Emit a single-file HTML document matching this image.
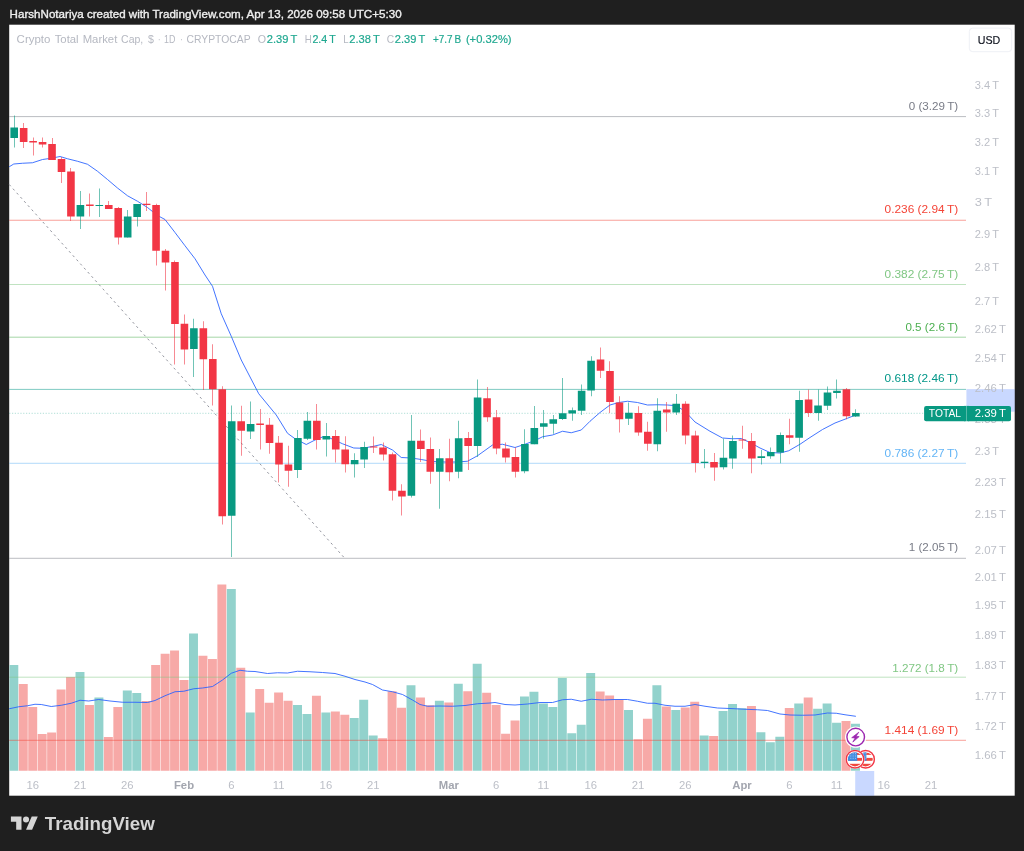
<!DOCTYPE html>
<html lang="en"><head><meta charset="utf-8"><title>Crypto Total Market Cap chart</title>
<style>
html,body{margin:0;padding:0;background:#1f1f1f;}
body{width:1024px;height:851px;overflow:hidden;position:relative;font-family:"Liberation Sans",Arial,sans-serif;}
svg{position:absolute;left:0;top:0;display:block;}
text{font-family:"Liberation Sans",Arial,sans-serif;}
.ax{fill:#bcbfc7;font-size:11.3px;}
.tm{fill:#bcbfc7;font-size:11.3px;text-anchor:middle;}
.tmb{fill:#a3a6af;font-size:11.3px;text-anchor:middle;font-weight:bold;}
.fib{font-size:11.3px;text-anchor:end;}
.lg{font-size:11px;}
</style></head><body>
<svg width="1024" height="851" viewBox="0 0 1024 851">
<rect x="0" y="0" width="1024" height="851" fill="#1f1f1f"/>
<rect x="9.2" y="24.7" width="1005.5" height="771" fill="#ffffff"/>
<defs><clipPath id="pc"><rect x="9.2" y="24.5" width="957" height="746.3"/></clipPath><clipPath id="fc"><circle cx="0" cy="0" r="7.1"/></clipPath></defs>
<text x="9.6" y="18.0" fill="#ebebeb" font-size="11.4px" textLength="392" lengthAdjust="spacingAndGlyphs" stroke="#f2f2f2" stroke-width="0.35">HarshNotariya created with TradingView.com, Apr 13, 2026 09:58 UTC+5:30</text>
<g clip-path="url(#pc)">
<rect x="9.33" y="665.0" width="8.95" height="106.00" fill="#92d2cc"/>
<rect x="18.78" y="684.0" width="8.95" height="87.00" fill="#f7a9a7"/>
<rect x="28.24" y="707.0" width="8.95" height="64.00" fill="#f7a9a7"/>
<rect x="37.70" y="734.0" width="8.95" height="37.00" fill="#f7a9a7"/>
<rect x="47.15" y="732.5" width="8.95" height="38.50" fill="#f7a9a7"/>
<rect x="56.61" y="689.5" width="8.95" height="81.50" fill="#f7a9a7"/>
<rect x="66.07" y="677.0" width="8.95" height="94.00" fill="#f7a9a7"/>
<rect x="75.52" y="672.0" width="8.95" height="99.00" fill="#92d2cc"/>
<rect x="84.98" y="705.0" width="8.95" height="66.00" fill="#f7a9a7"/>
<rect x="94.44" y="697.5" width="8.95" height="73.50" fill="#92d2cc"/>
<rect x="103.90" y="737.0" width="8.95" height="34.00" fill="#f7a9a7"/>
<rect x="113.35" y="707.0" width="8.95" height="64.00" fill="#f7a9a7"/>
<rect x="122.81" y="690.5" width="8.95" height="80.50" fill="#92d2cc"/>
<rect x="132.27" y="693.0" width="8.95" height="78.00" fill="#92d2cc"/>
<rect x="141.72" y="701.0" width="8.95" height="70.00" fill="#f7a9a7"/>
<rect x="151.18" y="665.0" width="8.95" height="106.00" fill="#f7a9a7"/>
<rect x="160.64" y="653.75" width="8.95" height="117.25" fill="#f7a9a7"/>
<rect x="170.09" y="650.5" width="8.95" height="120.50" fill="#f7a9a7"/>
<rect x="179.55" y="680.0" width="8.95" height="91.00" fill="#f7a9a7"/>
<rect x="189.01" y="633.5" width="8.95" height="137.50" fill="#92d2cc"/>
<rect x="198.47" y="655.75" width="8.95" height="115.25" fill="#f7a9a7"/>
<rect x="207.92" y="659.0" width="8.95" height="112.00" fill="#f7a9a7"/>
<rect x="217.38" y="584.5" width="8.95" height="186.50" fill="#f7a9a7"/>
<rect x="226.84" y="589.0" width="8.95" height="182.00" fill="#92d2cc"/>
<rect x="236.29" y="667.75" width="8.95" height="103.25" fill="#f7a9a7"/>
<rect x="245.75" y="712.5" width="8.95" height="58.50" fill="#92d2cc"/>
<rect x="255.21" y="689.0" width="8.95" height="82.00" fill="#f7a9a7"/>
<rect x="264.66" y="702.75" width="8.95" height="68.25" fill="#f7a9a7"/>
<rect x="274.12" y="692.5" width="8.95" height="78.50" fill="#f7a9a7"/>
<rect x="283.58" y="700.75" width="8.95" height="70.25" fill="#f7a9a7"/>
<rect x="293.04" y="705.0" width="8.95" height="66.00" fill="#92d2cc"/>
<rect x="302.49" y="714.0" width="8.95" height="57.00" fill="#92d2cc"/>
<rect x="311.95" y="695.75" width="8.95" height="75.25" fill="#f7a9a7"/>
<rect x="321.41" y="712.5" width="8.95" height="58.50" fill="#92d2cc"/>
<rect x="330.86" y="711.5" width="8.95" height="59.50" fill="#f7a9a7"/>
<rect x="340.32" y="714.75" width="8.95" height="56.25" fill="#f7a9a7"/>
<rect x="349.78" y="718.0" width="8.95" height="53.00" fill="#92d2cc"/>
<rect x="359.23" y="699.75" width="8.95" height="71.25" fill="#92d2cc"/>
<rect x="368.69" y="735.5" width="8.95" height="35.50" fill="#92d2cc"/>
<rect x="378.15" y="738.25" width="8.95" height="32.75" fill="#f7a9a7"/>
<rect x="387.61" y="691.25" width="8.95" height="79.75" fill="#f7a9a7"/>
<rect x="397.06" y="707.75" width="8.95" height="63.25" fill="#f7a9a7"/>
<rect x="406.52" y="685.25" width="8.95" height="85.75" fill="#92d2cc"/>
<rect x="415.98" y="697.5" width="8.95" height="73.50" fill="#f7a9a7"/>
<rect x="425.43" y="705.25" width="8.95" height="65.75" fill="#f7a9a7"/>
<rect x="434.89" y="700.75" width="8.95" height="70.25" fill="#92d2cc"/>
<rect x="444.35" y="702.5" width="8.95" height="68.50" fill="#f7a9a7"/>
<rect x="453.80" y="683.75" width="8.95" height="87.25" fill="#92d2cc"/>
<rect x="463.26" y="691.25" width="8.95" height="79.75" fill="#f7a9a7"/>
<rect x="472.72" y="663.75" width="8.95" height="107.25" fill="#92d2cc"/>
<rect x="482.18" y="692.75" width="8.95" height="78.25" fill="#f7a9a7"/>
<rect x="491.63" y="705.0" width="8.95" height="66.00" fill="#f7a9a7"/>
<rect x="501.09" y="733.75" width="8.95" height="37.25" fill="#f7a9a7"/>
<rect x="510.55" y="720.5" width="8.95" height="50.50" fill="#f7a9a7"/>
<rect x="520.00" y="696.5" width="8.95" height="74.50" fill="#92d2cc"/>
<rect x="529.46" y="691.75" width="8.95" height="79.25" fill="#92d2cc"/>
<rect x="538.92" y="703.5" width="8.95" height="67.50" fill="#92d2cc"/>
<rect x="548.37" y="707.0" width="8.95" height="64.00" fill="#92d2cc"/>
<rect x="557.83" y="678.0" width="8.95" height="93.00" fill="#92d2cc"/>
<rect x="567.29" y="733.25" width="8.95" height="37.75" fill="#92d2cc"/>
<rect x="576.75" y="724.75" width="8.95" height="46.25" fill="#92d2cc"/>
<rect x="586.20" y="673.0" width="8.95" height="98.00" fill="#92d2cc"/>
<rect x="595.66" y="691.5" width="8.95" height="79.50" fill="#f7a9a7"/>
<rect x="605.12" y="695.5" width="8.95" height="75.50" fill="#f7a9a7"/>
<rect x="614.57" y="699.5" width="8.95" height="71.50" fill="#f7a9a7"/>
<rect x="624.03" y="710.0" width="8.95" height="61.00" fill="#92d2cc"/>
<rect x="633.49" y="739.25" width="8.95" height="31.75" fill="#f7a9a7"/>
<rect x="642.94" y="718.75" width="8.95" height="52.25" fill="#f7a9a7"/>
<rect x="652.40" y="685.25" width="8.95" height="85.75" fill="#92d2cc"/>
<rect x="661.86" y="706.5" width="8.95" height="64.50" fill="#f7a9a7"/>
<rect x="671.31" y="710.0" width="8.95" height="61.00" fill="#92d2cc"/>
<rect x="680.77" y="707.5" width="8.95" height="63.50" fill="#f7a9a7"/>
<rect x="690.23" y="701.75" width="8.95" height="69.25" fill="#f7a9a7"/>
<rect x="699.69" y="735.5" width="8.95" height="35.50" fill="#92d2cc"/>
<rect x="709.14" y="736.0" width="8.95" height="35.00" fill="#f7a9a7"/>
<rect x="718.60" y="711.0" width="8.95" height="60.00" fill="#92d2cc"/>
<rect x="728.06" y="704.0" width="8.95" height="67.00" fill="#92d2cc"/>
<rect x="737.51" y="708.25" width="8.95" height="62.75" fill="#92d2cc"/>
<rect x="746.97" y="706.0" width="8.95" height="65.00" fill="#f7a9a7"/>
<rect x="756.43" y="732.25" width="8.95" height="38.75" fill="#92d2cc"/>
<rect x="765.88" y="742.25" width="8.95" height="28.75" fill="#92d2cc"/>
<rect x="775.34" y="736.75" width="8.95" height="34.25" fill="#92d2cc"/>
<rect x="784.80" y="708.0" width="8.95" height="63.00" fill="#f7a9a7"/>
<rect x="794.26" y="703.5" width="8.95" height="67.50" fill="#92d2cc"/>
<rect x="803.71" y="697.5" width="8.95" height="73.50" fill="#f7a9a7"/>
<rect x="813.17" y="708.75" width="8.95" height="62.25" fill="#92d2cc"/>
<rect x="822.63" y="703.5" width="8.95" height="67.50" fill="#92d2cc"/>
<rect x="832.08" y="722.75" width="8.95" height="48.25" fill="#92d2cc"/>
<rect x="841.54" y="721.0" width="8.95" height="50.00" fill="#f7a9a7"/>
<rect x="851.00" y="723.75" width="8.95" height="47.25" fill="#92d2cc"/>
</g>
<line x1="9.2" x2="966" y1="116.6" y2="116.6" stroke="#787b86" stroke-width="1" stroke-opacity="0.5"/>
<line x1="9.2" x2="966" y1="220.25" y2="220.25" stroke="#f44336" stroke-width="1" stroke-opacity="0.5"/>
<line x1="9.2" x2="966" y1="284.5" y2="284.5" stroke="#81c784" stroke-width="1" stroke-opacity="0.5"/>
<line x1="9.2" x2="966" y1="337.2" y2="337.2" stroke="#4caf50" stroke-width="1" stroke-opacity="0.5"/>
<line x1="9.2" x2="966" y1="389.4" y2="389.4" stroke="#009688" stroke-width="1" stroke-opacity="0.5"/>
<line x1="9.2" x2="966" y1="463.3" y2="463.3" stroke="#64b5f6" stroke-width="1" stroke-opacity="0.5"/>
<line x1="9.2" x2="966" y1="558.3" y2="558.3" stroke="#787b86" stroke-width="1" stroke-opacity="0.5"/>
<line x1="9.2" x2="966" y1="677.2" y2="677.2" stroke="#81c784" stroke-width="1" stroke-opacity="0.5"/>
<line x1="9.2" x2="966" y1="740.3" y2="740.3" stroke="#f44336" stroke-width="1" stroke-opacity="0.5"/>
<line x1="9.2" y1="184.5" x2="344.5" y2="558" stroke="#787b86" stroke-width="1" stroke-dasharray="2.3 3.3" stroke-opacity="0.8"/>
<line x1="9.2" x2="966" y1="413.3" y2="413.3" stroke="#089981" stroke-width="0.8" stroke-dasharray="1.2 1.6" stroke-opacity="0.4"/>
<g clip-path="url(#pc)">
<polyline points="9.25,166.75 13.75,164 22.5,163.25 32.5,162.75 42.5,159.5 51.25,158.25 60,156.5 67.5,158.75 77.5,161.25 87.5,164.25 97.5,171.25 107.5,179.5 117.5,188 127.5,195.75 137.5,201.25 147.5,207.5 157.5,215.5 165,219.5 175,232.5 185,245.75 195,258.75 205,275 212.5,286.25 221.25,313.75 231.25,336.25 241.25,360 258.75,393.75 276.25,415 287.5,433.25 295,438.75 306.25,444.5 315,440 322.5,437 330,438 342.5,443.75 353.75,448 362.5,448.25 373.75,446.25 381.25,444.5 392.5,450 401.25,457.5 411.25,458 421.25,459.5 432.5,461.5 445,462 456.25,462 467.5,461.25 477.5,455.75 492.5,445 502.5,444.25 515,447.5 525,444.25 535,440.5 542.5,436.75 552.5,435 562.5,431.25 571.25,432.75 581.25,430 590,421.25 600,412.5 610,405 618.75,402.5 627.5,401.25 637.5,402.5 647.5,405 657.5,404.75 667.5,405 676.25,405.75 685,411.25 695,422 710,431.25 722.5,438 732.5,438.75 741.25,438.5 750,442.5 760,448 770,452.5 780,453 788.75,450.75 800,444.25 810,437.5 822.5,429.5 835,423 847.5,418.25 855.5,415" fill="none" stroke="#2962ff" stroke-width="1.0" stroke-linejoin="round" stroke-linecap="round" stroke-opacity="0.88"/>
<polyline points="9.25,708.75 18.75,706.75 27.5,705.75 35,704.25 41.25,704.5 51.25,706.5 61.25,705.25 71.25,703.25 80,700.25 88.75,701 98.75,699.5 110,701 122.5,702.25 135,702.25 147.5,702.5 155,700.5 165,695.75 175,691.75 183.75,691.25 193.75,688.75 202.5,688 212.5,686.5 222.5,680 231.25,673.25 240,670.25 247.5,671.25 255,671.5 267.5,673.5 277.5,672.75 287.5,673 297.5,671.25 310,671.75 322.5,672.5 335,673.5 345,676.25 355,679.5 365,682 372.5,684.5 382.5,690 392.5,691.75 402.5,694.5 412.5,700 420,704.5 427.5,706.25 440,706 452.5,706.25 465,705.5 477.5,703.75 490,703 495,702.5 505,704.5 515,705 527.5,704 540,702.5 552.5,702.5 562.5,699.75 571.25,699.25 581.25,701.25 591.25,699.25 602.5,700 615,699.5 627.5,699.5 637.5,701.25 647.5,703.25 655,703.25 665,705.25 675,706.25 685,706.25 695,704.5 705,706.25 717.5,708 730,708.5 745,709.25 757.5,709.75 767.5,710.5 780,714 790,715 802.5,715.25 815,715 827.5,713 836.25,713.25 845,714.75 855.5,716.25" fill="none" stroke="#2962ff" stroke-width="1.0" stroke-linejoin="round" stroke-linecap="round" stroke-opacity="0.88"/>
<rect x="14" y="115.5" width="1" height="32.00" fill="#089981" fill-opacity="0.58"/>
<rect x="10.40" y="127.5" width="7.6" height="10.50" fill="#089981"/>
<rect x="23" y="123.0" width="1" height="25.00" fill="#f23645" fill-opacity="0.58"/>
<rect x="19.86" y="128.0" width="7.6" height="14.00" fill="#f23645"/>
<rect x="33" y="137.5" width="1" height="18.00" fill="#f23645" fill-opacity="0.58"/>
<rect x="29.31" y="141.0" width="7.6" height="1.50" fill="#f23645"/>
<rect x="42" y="137.5" width="1" height="10.00" fill="#f23645" fill-opacity="0.58"/>
<rect x="38.77" y="142.0" width="7.6" height="2.50" fill="#f23645"/>
<rect x="52" y="138.0" width="1" height="22.00" fill="#f23645" fill-opacity="0.58"/>
<rect x="48.23" y="144.0" width="7.6" height="16.00" fill="#f23645"/>
<rect x="61" y="157.0" width="1" height="26.00" fill="#f23645" fill-opacity="0.58"/>
<rect x="57.69" y="159.0" width="7.6" height="13.00" fill="#f23645"/>
<rect x="70" y="168.0" width="1" height="53.00" fill="#f23645" fill-opacity="0.58"/>
<rect x="67.14" y="171.5" width="7.6" height="45.00" fill="#f23645"/>
<rect x="80" y="191.0" width="1" height="38.00" fill="#089981" fill-opacity="0.58"/>
<rect x="76.60" y="205.0" width="7.6" height="11.50" fill="#089981"/>
<rect x="89" y="193.5" width="1" height="23.00" fill="#f23645" fill-opacity="0.58"/>
<rect x="86.06" y="204.5" width="7.6" height="1.50" fill="#f23645"/>
<rect x="99" y="188.5" width="1" height="28.50" fill="#089981" fill-opacity="0.58"/>
<rect x="95.51" y="205.0" width="7.6" height="1.00" fill="#089981"/>
<rect x="108" y="201.0" width="1" height="8.00" fill="#f23645" fill-opacity="0.58"/>
<rect x="104.97" y="205.0" width="7.6" height="4.00" fill="#f23645"/>
<rect x="118" y="207.0" width="1" height="37.50" fill="#f23645" fill-opacity="0.58"/>
<rect x="114.43" y="208.0" width="7.6" height="29.50" fill="#f23645"/>
<rect x="127" y="210.0" width="1" height="27.50" fill="#089981" fill-opacity="0.58"/>
<rect x="123.88" y="216.5" width="7.6" height="21.00" fill="#089981"/>
<rect x="137" y="204.0" width="1" height="22.50" fill="#089981" fill-opacity="0.58"/>
<rect x="133.34" y="204.0" width="7.6" height="13.00" fill="#089981"/>
<rect x="146" y="192.0" width="1" height="19.00" fill="#f23645" fill-opacity="0.58"/>
<rect x="142.80" y="203.75" width="7.6" height="1.25" fill="#f23645"/>
<rect x="156" y="203.75" width="1" height="61.75" fill="#f23645" fill-opacity="0.58"/>
<rect x="152.26" y="205.0" width="7.6" height="45.75" fill="#f23645"/>
<rect x="165" y="249.0" width="1" height="41.50" fill="#f23645" fill-opacity="0.58"/>
<rect x="161.71" y="250.75" width="7.6" height="11.75" fill="#f23645"/>
<rect x="174" y="260.5" width="1" height="104.00" fill="#f23645" fill-opacity="0.58"/>
<rect x="171.17" y="262.0" width="7.6" height="62.00" fill="#f23645"/>
<rect x="184" y="314.5" width="1" height="50.00" fill="#f23645" fill-opacity="0.58"/>
<rect x="180.63" y="323.75" width="7.6" height="25.75" fill="#f23645"/>
<rect x="193" y="318.75" width="1" height="58.25" fill="#089981" fill-opacity="0.58"/>
<rect x="190.08" y="328.25" width="7.6" height="20.75" fill="#089981"/>
<rect x="203" y="321.25" width="1" height="68.75" fill="#f23645" fill-opacity="0.58"/>
<rect x="199.54" y="328.25" width="7.6" height="31.00" fill="#f23645"/>
<rect x="212" y="344.25" width="1" height="61.25" fill="#f23645" fill-opacity="0.58"/>
<rect x="209.00" y="359.0" width="7.6" height="30.25" fill="#f23645"/>
<rect x="222" y="386.25" width="1" height="138.25" fill="#f23645" fill-opacity="0.58"/>
<rect x="218.45" y="389.25" width="7.6" height="127.00" fill="#f23645"/>
<rect x="231" y="405.5" width="1" height="151.50" fill="#089981" fill-opacity="0.58"/>
<rect x="227.91" y="421.25" width="7.6" height="94.50" fill="#089981"/>
<rect x="241" y="405.75" width="1" height="50.00" fill="#f23645" fill-opacity="0.58"/>
<rect x="237.37" y="421.25" width="7.6" height="9.50" fill="#f23645"/>
<rect x="250" y="401.5" width="1" height="37.50" fill="#089981" fill-opacity="0.58"/>
<rect x="246.83" y="424.0" width="7.6" height="7.50" fill="#089981"/>
<rect x="260" y="409.0" width="1" height="40.50" fill="#f23645" fill-opacity="0.58"/>
<rect x="256.28" y="423.5" width="7.6" height="1.50" fill="#f23645"/>
<rect x="269" y="418.0" width="1" height="35.75" fill="#f23645" fill-opacity="0.58"/>
<rect x="265.74" y="424.75" width="7.6" height="18.25" fill="#f23645"/>
<rect x="278" y="436.0" width="1" height="46.50" fill="#f23645" fill-opacity="0.58"/>
<rect x="275.20" y="442.75" width="7.6" height="21.75" fill="#f23645"/>
<rect x="288" y="445.75" width="1" height="41.00" fill="#f23645" fill-opacity="0.58"/>
<rect x="284.65" y="464.5" width="7.6" height="6.25" fill="#f23645"/>
<rect x="297" y="430.0" width="1" height="48.00" fill="#089981" fill-opacity="0.58"/>
<rect x="294.11" y="438.0" width="7.6" height="32.00" fill="#089981"/>
<rect x="307" y="412.0" width="1" height="28.00" fill="#089981" fill-opacity="0.58"/>
<rect x="303.57" y="420.75" width="7.6" height="18.00" fill="#089981"/>
<rect x="316" y="404.0" width="1" height="45.50" fill="#f23645" fill-opacity="0.58"/>
<rect x="313.02" y="420.75" width="7.6" height="19.25" fill="#f23645"/>
<rect x="326" y="423.0" width="1" height="33.50" fill="#089981" fill-opacity="0.58"/>
<rect x="322.48" y="436.0" width="7.6" height="3.50" fill="#089981"/>
<rect x="335" y="430.0" width="1" height="32.50" fill="#f23645" fill-opacity="0.58"/>
<rect x="331.94" y="436.0" width="7.6" height="13.50" fill="#f23645"/>
<rect x="345" y="436.25" width="1" height="36.25" fill="#f23645" fill-opacity="0.58"/>
<rect x="341.39" y="449.5" width="7.6" height="14.75" fill="#f23645"/>
<rect x="354" y="453.25" width="1" height="24.25" fill="#089981" fill-opacity="0.58"/>
<rect x="350.85" y="460.0" width="7.6" height="4.25" fill="#089981"/>
<rect x="364" y="441.75" width="1" height="26.25" fill="#089981" fill-opacity="0.58"/>
<rect x="360.31" y="447.0" width="7.6" height="12.50" fill="#089981"/>
<rect x="373" y="436.5" width="1" height="16.50" fill="#f23645" fill-opacity="0.58"/>
<rect x="369.77" y="446.5" width="7.6" height="1.00" fill="#f23645"/>
<rect x="383" y="442.5" width="1" height="18.00" fill="#f23645" fill-opacity="0.58"/>
<rect x="379.22" y="447.5" width="7.6" height="7.00" fill="#f23645"/>
<rect x="392" y="452.5" width="1" height="48.00" fill="#f23645" fill-opacity="0.58"/>
<rect x="388.68" y="454.25" width="7.6" height="36.50" fill="#f23645"/>
<rect x="401" y="484.25" width="1" height="31.25" fill="#f23645" fill-opacity="0.58"/>
<rect x="398.14" y="490.75" width="7.6" height="5.75" fill="#f23645"/>
<rect x="411" y="415.0" width="1" height="82.50" fill="#089981" fill-opacity="0.58"/>
<rect x="407.59" y="440.75" width="7.6" height="55.00" fill="#089981"/>
<rect x="420" y="429.5" width="1" height="32.50" fill="#f23645" fill-opacity="0.58"/>
<rect x="417.05" y="440.75" width="7.6" height="8.25" fill="#f23645"/>
<rect x="430" y="437.5" width="1" height="46.25" fill="#f23645" fill-opacity="0.58"/>
<rect x="426.51" y="449.0" width="7.6" height="22.75" fill="#f23645"/>
<rect x="439" y="449.0" width="1" height="59.75" fill="#089981" fill-opacity="0.58"/>
<rect x="435.97" y="458.25" width="7.6" height="13.50" fill="#089981"/>
<rect x="449" y="438.75" width="1" height="42.50" fill="#f23645" fill-opacity="0.58"/>
<rect x="445.42" y="458.25" width="7.6" height="14.00" fill="#f23645"/>
<rect x="458" y="420.75" width="1" height="57.50" fill="#089981" fill-opacity="0.58"/>
<rect x="454.88" y="438.25" width="7.6" height="33.50" fill="#089981"/>
<rect x="468" y="432.0" width="1" height="38.00" fill="#f23645" fill-opacity="0.58"/>
<rect x="464.34" y="438.0" width="7.6" height="8.00" fill="#f23645"/>
<rect x="477" y="379.5" width="1" height="77.50" fill="#089981" fill-opacity="0.58"/>
<rect x="473.79" y="397.5" width="7.6" height="48.50" fill="#089981"/>
<rect x="487" y="387.0" width="1" height="34.75" fill="#f23645" fill-opacity="0.58"/>
<rect x="483.25" y="398.25" width="7.6" height="19.00" fill="#f23645"/>
<rect x="496" y="410.0" width="1" height="44.25" fill="#f23645" fill-opacity="0.58"/>
<rect x="492.71" y="417.25" width="7.6" height="31.25" fill="#f23645"/>
<rect x="505" y="442.5" width="1" height="20.00" fill="#f23645" fill-opacity="0.58"/>
<rect x="502.16" y="448.5" width="7.6" height="9.00" fill="#f23645"/>
<rect x="515" y="447.5" width="1" height="30.00" fill="#f23645" fill-opacity="0.58"/>
<rect x="511.62" y="457.0" width="7.6" height="14.75" fill="#f23645"/>
<rect x="524" y="429.25" width="1" height="44.00" fill="#089981" fill-opacity="0.58"/>
<rect x="521.08" y="444.0" width="7.6" height="27.25" fill="#089981"/>
<rect x="534" y="406.0" width="1" height="38.25" fill="#089981" fill-opacity="0.58"/>
<rect x="530.53" y="428.0" width="7.6" height="16.25" fill="#089981"/>
<rect x="543" y="410.0" width="1" height="28.75" fill="#089981" fill-opacity="0.58"/>
<rect x="539.99" y="423.25" width="7.6" height="3.50" fill="#089981"/>
<rect x="553" y="415.0" width="1" height="18.75" fill="#089981" fill-opacity="0.58"/>
<rect x="549.45" y="419.25" width="7.6" height="4.50" fill="#089981"/>
<rect x="562" y="378.0" width="1" height="42.00" fill="#089981" fill-opacity="0.58"/>
<rect x="558.91" y="413.25" width="7.6" height="5.75" fill="#089981"/>
<rect x="572" y="407.5" width="1" height="13.25" fill="#089981" fill-opacity="0.58"/>
<rect x="568.36" y="410.25" width="7.6" height="3.25" fill="#089981"/>
<rect x="581" y="384.5" width="1" height="30.50" fill="#089981" fill-opacity="0.58"/>
<rect x="577.82" y="390.75" width="7.6" height="20.00" fill="#089981"/>
<rect x="591" y="356.25" width="1" height="40.00" fill="#089981" fill-opacity="0.58"/>
<rect x="587.28" y="360.75" width="7.6" height="29.75" fill="#089981"/>
<rect x="600" y="347.5" width="1" height="30.50" fill="#f23645" fill-opacity="0.58"/>
<rect x="596.73" y="359.5" width="7.6" height="11.25" fill="#f23645"/>
<rect x="609" y="361.25" width="1" height="51.75" fill="#f23645" fill-opacity="0.58"/>
<rect x="606.19" y="371.0" width="7.6" height="31.00" fill="#f23645"/>
<rect x="619" y="396.25" width="1" height="36.25" fill="#f23645" fill-opacity="0.58"/>
<rect x="615.65" y="402.5" width="7.6" height="16.75" fill="#f23645"/>
<rect x="628" y="402.5" width="1" height="22.50" fill="#089981" fill-opacity="0.58"/>
<rect x="625.11" y="412.75" width="7.6" height="6.00" fill="#089981"/>
<rect x="638" y="406.25" width="1" height="29.50" fill="#f23645" fill-opacity="0.58"/>
<rect x="634.56" y="413.0" width="7.6" height="19.50" fill="#f23645"/>
<rect x="647" y="421.75" width="1" height="29.00" fill="#f23645" fill-opacity="0.58"/>
<rect x="644.02" y="431.75" width="7.6" height="12.00" fill="#f23645"/>
<rect x="657" y="398.25" width="1" height="53.00" fill="#089981" fill-opacity="0.58"/>
<rect x="653.48" y="410.75" width="7.6" height="33.50" fill="#089981"/>
<rect x="666" y="402.0" width="1" height="29.75" fill="#f23645" fill-opacity="0.58"/>
<rect x="662.93" y="409.5" width="7.6" height="3.00" fill="#f23645"/>
<rect x="676" y="394.0" width="1" height="21.00" fill="#089981" fill-opacity="0.58"/>
<rect x="672.39" y="403.75" width="7.6" height="8.75" fill="#089981"/>
<rect x="685" y="401.25" width="1" height="43.00" fill="#f23645" fill-opacity="0.58"/>
<rect x="681.85" y="403.75" width="7.6" height="31.75" fill="#f23645"/>
<rect x="695" y="430.75" width="1" height="41.75" fill="#f23645" fill-opacity="0.58"/>
<rect x="691.30" y="435.5" width="7.6" height="27.50" fill="#f23645"/>
<rect x="704" y="449.0" width="1" height="19.25" fill="#089981" fill-opacity="0.58"/>
<rect x="700.76" y="461.75" width="7.6" height="1.25" fill="#089981"/>
<rect x="714" y="453.0" width="1" height="27.75" fill="#f23645" fill-opacity="0.58"/>
<rect x="710.22" y="462.0" width="7.6" height="5.50" fill="#f23645"/>
<rect x="723" y="438.75" width="1" height="30.75" fill="#089981" fill-opacity="0.58"/>
<rect x="719.68" y="457.75" width="7.6" height="9.50" fill="#089981"/>
<rect x="732" y="435.5" width="1" height="33.25" fill="#089981" fill-opacity="0.58"/>
<rect x="729.13" y="441.0" width="7.6" height="17.50" fill="#089981"/>
<rect x="742" y="425.75" width="1" height="23.00" fill="#f23645" fill-opacity="0.58"/>
<rect x="738.59" y="439.5" width="7.6" height="1.00" fill="#f23645"/>
<rect x="751" y="433.0" width="1" height="40.25" fill="#f23645" fill-opacity="0.58"/>
<rect x="748.05" y="441.0" width="7.6" height="17.50" fill="#f23645"/>
<rect x="761" y="450.0" width="1" height="14.50" fill="#089981" fill-opacity="0.58"/>
<rect x="757.50" y="456.25" width="7.6" height="1.75" fill="#089981"/>
<rect x="770" y="447.5" width="1" height="11.25" fill="#089981" fill-opacity="0.58"/>
<rect x="766.96" y="452.0" width="7.6" height="4.25" fill="#089981"/>
<rect x="780" y="432.5" width="1" height="30.75" fill="#089981" fill-opacity="0.58"/>
<rect x="776.42" y="435.0" width="7.6" height="17.50" fill="#089981"/>
<rect x="789" y="418.75" width="1" height="25.50" fill="#f23645" fill-opacity="0.58"/>
<rect x="785.87" y="435.25" width="7.6" height="2.50" fill="#f23645"/>
<rect x="799" y="390.75" width="1" height="61.00" fill="#089981" fill-opacity="0.58"/>
<rect x="795.33" y="400.0" width="7.6" height="37.75" fill="#089981"/>
<rect x="808" y="389.5" width="1" height="27.50" fill="#f23645" fill-opacity="0.58"/>
<rect x="804.79" y="399.5" width="7.6" height="13.50" fill="#f23645"/>
<rect x="818" y="389.5" width="1" height="31.25" fill="#089981" fill-opacity="0.58"/>
<rect x="814.25" y="405.5" width="7.6" height="7.50" fill="#089981"/>
<rect x="827" y="386.5" width="1" height="23.50" fill="#089981" fill-opacity="0.58"/>
<rect x="823.70" y="392.5" width="7.6" height="13.25" fill="#089981"/>
<rect x="836" y="379.5" width="1" height="19.00" fill="#089981" fill-opacity="0.58"/>
<rect x="833.16" y="390.75" width="7.6" height="2.25" fill="#089981"/>
<rect x="846" y="388.0" width="1" height="31.25" fill="#f23645" fill-opacity="0.58"/>
<rect x="842.62" y="389.25" width="7.6" height="27.00" fill="#f23645"/>
<rect x="855" y="409.25" width="1" height="7.75" fill="#089981" fill-opacity="0.58"/>
<rect x="852.07" y="413.0" width="7.6" height="3.50" fill="#089981"/>
</g>
<text x="958.2" y="109.9" class="fib" fill="#787b86" textLength="49.4" lengthAdjust="spacingAndGlyphs">0 (3.29 T)</text>
<text x="958.2" y="213.3" class="fib" fill="#f44336" textLength="73.6" lengthAdjust="spacingAndGlyphs">0.236 (2.94 T)</text>
<text x="958.2" y="278.1" class="fib" fill="#81c784" textLength="73.6" lengthAdjust="spacingAndGlyphs">0.382 (2.75 T)</text>
<text x="958.2" y="331.0" class="fib" fill="#4caf50" textLength="52.8" lengthAdjust="spacingAndGlyphs">0.5 (2.6 T)</text>
<text x="958.2" y="382.2" class="fib" fill="#009688" textLength="73.6" lengthAdjust="spacingAndGlyphs">0.618 (2.46 T)</text>
<text x="958.2" y="456.9" class="fib" fill="#64b5f6" textLength="73.6" lengthAdjust="spacingAndGlyphs">0.786 (2.27 T)</text>
<text x="958.2" y="551.1" class="fib" fill="#787b86" textLength="49.4" lengthAdjust="spacingAndGlyphs">1 (2.05 T)</text>
<text x="958.2" y="671.6" class="fib" fill="#81c784" textLength="66.0" lengthAdjust="spacingAndGlyphs">1.272 (1.8 T)</text>
<text x="958.2" y="734.1" class="fib" fill="#f44336" textLength="73.6" lengthAdjust="spacingAndGlyphs">1.414 (1.69 T)</text>
<rect x="966.4" y="389.1" width="48.3" height="22.6" fill="#2962ff" fill-opacity="0.25"/>
<text x="974.7" y="88.8" class="ax" textLength="24.4" lengthAdjust="spacingAndGlyphs">3.4 T</text>
<text x="974.7" y="117.0" class="ax" textLength="24.4" lengthAdjust="spacingAndGlyphs">3.3 T</text>
<text x="974.7" y="145.6" class="ax" textLength="24.4" lengthAdjust="spacingAndGlyphs">3.2 T</text>
<text x="974.7" y="174.8" class="ax" textLength="24.4" lengthAdjust="spacingAndGlyphs">3.1 T</text>
<text x="974.7" y="206.1" class="ax" textLength="17.5" lengthAdjust="spacingAndGlyphs">3 T</text>
<text x="974.7" y="238.0" class="ax" textLength="24.4" lengthAdjust="spacingAndGlyphs">2.9 T</text>
<text x="974.7" y="271.0" class="ax" textLength="24.4" lengthAdjust="spacingAndGlyphs">2.8 T</text>
<text x="974.7" y="305.1" class="ax" textLength="24.4" lengthAdjust="spacingAndGlyphs">2.7 T</text>
<text x="974.7" y="332.8" class="ax" textLength="31.3" lengthAdjust="spacingAndGlyphs">2.62 T</text>
<text x="974.7" y="362.2" class="ax" textLength="31.3" lengthAdjust="spacingAndGlyphs">2.54 T</text>
<text x="974.7" y="391.6" class="ax" textLength="31.3" lengthAdjust="spacingAndGlyphs">2.46 T</text>
<text x="974.7" y="423.3" class="ax" textLength="31.3" lengthAdjust="spacingAndGlyphs">2.38 T</text>
<text x="974.7" y="455.1" class="ax" textLength="24.4" lengthAdjust="spacingAndGlyphs">2.3 T</text>
<text x="974.7" y="486.3" class="ax" textLength="31.3" lengthAdjust="spacingAndGlyphs">2.23 T</text>
<text x="974.7" y="518.0" class="ax" textLength="31.3" lengthAdjust="spacingAndGlyphs">2.15 T</text>
<text x="974.7" y="554.0" class="ax" textLength="31.3" lengthAdjust="spacingAndGlyphs">2.07 T</text>
<text x="974.7" y="581.2" class="ax" textLength="31.3" lengthAdjust="spacingAndGlyphs">2.01 T</text>
<text x="974.7" y="609.3" class="ax" textLength="31.3" lengthAdjust="spacingAndGlyphs">1.95 T</text>
<text x="974.7" y="638.6" class="ax" textLength="31.3" lengthAdjust="spacingAndGlyphs">1.89 T</text>
<text x="974.7" y="668.7" class="ax" textLength="31.3" lengthAdjust="spacingAndGlyphs">1.83 T</text>
<text x="974.7" y="700.0" class="ax" textLength="31.3" lengthAdjust="spacingAndGlyphs">1.77 T</text>
<text x="974.7" y="730.3" class="ax" textLength="31.3" lengthAdjust="spacingAndGlyphs">1.72 T</text>
<text x="974.7" y="758.5" class="ax" textLength="31.3" lengthAdjust="spacingAndGlyphs">1.66 T</text>
<rect x="924.1" y="405.9" width="43" height="15.3" rx="2" fill="#089981"/>
<rect x="966.2" y="405.9" width="44.8" height="15.3" rx="2" fill="#089981"/>
<rect x="964" y="405.9" width="5" height="15.3" fill="#089981"/>
<rect x="966.2" y="405.9" width="0.7" height="15.3" fill="#ffffff" fill-opacity="0.45"/>
<text x="928.8" y="417.4" fill="#ffffff" font-size="10.8px" textLength="32.2" lengthAdjust="spacingAndGlyphs">TOTAL</text>
<text x="974.7" y="417.4" fill="#ffffff" font-size="11.1px" textLength="31.3" lengthAdjust="spacingAndGlyphs">2.39 T</text>
<rect x="855.2" y="771" width="19" height="24.8" fill="#2962ff" fill-opacity="0.25"/>
<text x="32.7" y="789.1" class="tm">16</text>
<text x="80.0" y="789.1" class="tm">21</text>
<text x="127.3" y="789.1" class="tm">26</text>
<text x="184.0" y="789.1" class="tmb">Feb</text>
<text x="231.3" y="789.1" class="tm">6</text>
<text x="278.6" y="789.1" class="tm">11</text>
<text x="325.9" y="789.1" class="tm">16</text>
<text x="373.2" y="789.1" class="tm">21</text>
<text x="448.8" y="789.1" class="tmb">Mar</text>
<text x="496.1" y="789.1" class="tm">6</text>
<text x="543.4" y="789.1" class="tm">11</text>
<text x="590.7" y="789.1" class="tm">16</text>
<text x="638.0" y="789.1" class="tm">21</text>
<text x="685.2" y="789.1" class="tm">26</text>
<text x="742.0" y="789.1" class="tmb">Apr</text>
<text x="789.3" y="789.1" class="tm">6</text>
<text x="836.6" y="789.1" class="tm">11</text>
<text x="883.8" y="789.1" class="tm">16</text>
<text x="931.1" y="789.1" class="tm">21</text>
<text x="16.6" y="42.8" class="lg" fill="#b5b8c1" textLength="33.8" lengthAdjust="spacingAndGlyphs">Crypto</text>
<text x="54.7" y="42.8" class="lg" fill="#b5b8c1" textLength="23.9" lengthAdjust="spacingAndGlyphs">Total</text>
<text x="82.7" y="42.8" class="lg" fill="#b5b8c1" textLength="34.6" lengthAdjust="spacingAndGlyphs">Market</text>
<text x="121.1" y="42.8" class="lg" fill="#b5b8c1" textLength="22.2" lengthAdjust="spacingAndGlyphs">Cap,</text>
<text x="148.0" y="42.8" class="lg" fill="#b5b8c1" textLength="5.9" lengthAdjust="spacingAndGlyphs">$</text>
<text x="158.0" y="42.8" class="lg" fill="#b5b8c1" textLength="2.4" lengthAdjust="spacingAndGlyphs">·</text>
<text x="164.0" y="42.8" class="lg" fill="#b5b8c1" textLength="11.4" lengthAdjust="spacingAndGlyphs">1D</text>
<text x="180.2" y="42.8" class="lg" fill="#b5b8c1" textLength="2.4" lengthAdjust="spacingAndGlyphs">·</text>
<text x="186.5" y="42.8" class="lg" fill="#b5b8c1" textLength="64.1" lengthAdjust="spacingAndGlyphs">CRYPTOCAP</text>
<text x="257.8" y="42.8" class="lg" fill="#b5b8c1" textLength="8.3" lengthAdjust="spacingAndGlyphs">O</text>
<text x="266.7" y="42.8" class="lg" fill="#1fa890" textLength="30.7" lengthAdjust="spacingAndGlyphs" stroke="#1fa890" stroke-width="0.18">2.39 T</text>
<text x="304.8" y="42.8" class="lg" fill="#b5b8c1" textLength="7.0" lengthAdjust="spacingAndGlyphs">H</text>
<text x="312.4" y="42.8" class="lg" fill="#1fa890" textLength="23.5" lengthAdjust="spacingAndGlyphs" stroke="#1fa890" stroke-width="0.18">2.4 T</text>
<text x="343.2" y="42.8" class="lg" fill="#b5b8c1" textLength="5.4" lengthAdjust="spacingAndGlyphs">L</text>
<text x="349.2" y="42.8" class="lg" fill="#1fa890" textLength="30.7" lengthAdjust="spacingAndGlyphs" stroke="#1fa890" stroke-width="0.18">2.38 T</text>
<text x="386.8" y="42.8" class="lg" fill="#b5b8c1" textLength="7.4" lengthAdjust="spacingAndGlyphs">C</text>
<text x="394.8" y="42.8" class="lg" fill="#1fa890" textLength="30.5" lengthAdjust="spacingAndGlyphs" stroke="#1fa890" stroke-width="0.18">2.39 T</text>
<text x="432.9" y="42.8" class="lg" fill="#1fa890" textLength="28.3" lengthAdjust="spacingAndGlyphs" stroke="#1fa890" stroke-width="0.18">+7.7 B</text>
<text x="465.9" y="42.8" class="lg" fill="#1fa890" textLength="45.7" lengthAdjust="spacingAndGlyphs" stroke="#1fa890" stroke-width="0.18">(+0.32%)</text>
<rect x="969.3" y="28.1" width="42.4" height="23.6" rx="3.5" fill="#ffffff" stroke="#eef0f5" stroke-width="1"/>
<text x="977.7" y="43.8" fill="#131722" font-size="11.3px" textLength="22.5" lengthAdjust="spacingAndGlyphs" stroke="#131722" stroke-width="0.2">USD</text>
<g transform="translate(865.6,759.3)"><circle r="9.6" fill="#ffffff"/><g clip-path="url(#fc)"><rect x="-8" y="-8" width="16" height="16" fill="#ffffff"/><rect x="-8" y="-6.6" width="16" height="2.2" fill="#f0483e"/><rect x="-8" y="-1.4" width="16" height="2.9" fill="#f0483e"/><rect x="-8" y="4.5" width="16" height="3.5" fill="#f0483e"/><rect x="-8" y="-8" width="8.8" height="9.6" fill="#428ce1"/><path d="M-4.6 -5.6h0.9M-2.3 -5.6h0.9M0 -5.6h0.9M-4.6 -3.3h0.9M-2.3 -3.3h0.9M0 -3.3h0.9M-4.6 -1h0.9M-2.3 -1h0.9M0 -1h0.9" stroke="#b9d6f6" stroke-width="0.9" fill="none"/></g><circle r="8.75" fill="none" stroke="#f23645" stroke-width="1.4"/></g>
<g transform="translate(855.0,759.3)"><circle r="9.6" fill="#ffffff"/><g clip-path="url(#fc)"><rect x="-8" y="-8" width="16" height="16" fill="#ffffff"/><rect x="-8" y="-6.6" width="16" height="2.2" fill="#f0483e"/><rect x="-8" y="-1.4" width="16" height="2.9" fill="#f0483e"/><rect x="-8" y="4.5" width="16" height="3.5" fill="#f0483e"/><rect x="-8" y="-8" width="10.2" height="9.6" fill="#428ce1"/><path d="M-4.6 -5.6h0.9M-2.3 -5.6h0.9M0 -5.6h0.9M-4.6 -3.3h0.9M-2.3 -3.3h0.9M0 -3.3h0.9M-4.6 -1h0.9M-2.3 -1h0.9M0 -1h0.9" stroke="#b9d6f6" stroke-width="0.9" fill="none"/></g><circle r="8.75" fill="none" stroke="#f23645" stroke-width="1.4"/></g>
<g transform="translate(855.7,737.1)"><circle r="10.7" fill="#ffffff"/><circle r="8.8" fill="#ffffff" stroke="#9c27b0" stroke-width="1.4"/><path d="M3.1 -4.9L-4 0.6L-0.6 0.9L-2.9 5L3.5 -0.5L0.4 -0.9Z" fill="#9c27b0" stroke="#9c27b0" stroke-width="0.7" stroke-linejoin="round"/></g>
<g transform="translate(10.9,813.65) scale(0.757,0.735)" fill="#d5d5d5"><path d="M14 22H7V11H0V4h14v18zM28 22h-8l7.5-18h8L28 22z"/><circle cx="20" cy="8" r="4"/></g>
<text x="44.8" y="829.8" fill="#d5d5d5" font-size="18.2px" font-weight="bold" textLength="110" lengthAdjust="spacingAndGlyphs">TradingView</text>
</svg></body></html>
